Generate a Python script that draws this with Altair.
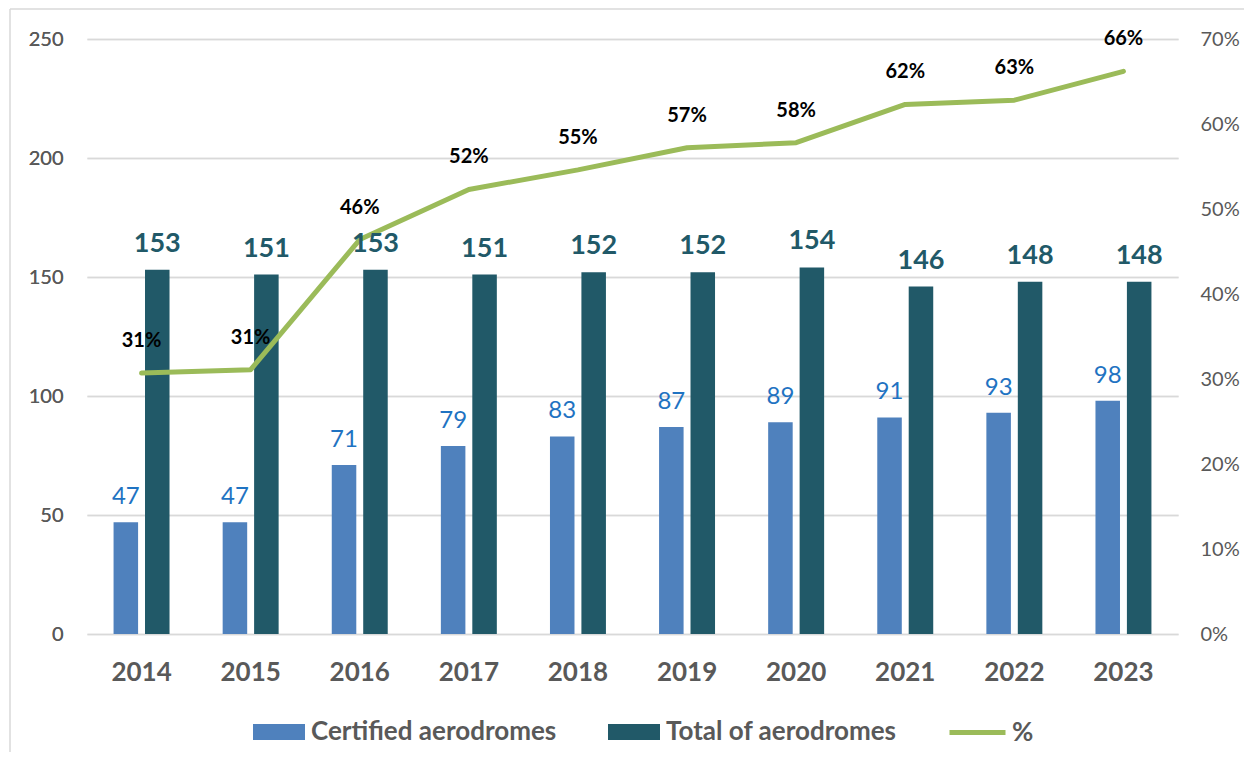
import altair as alt
import pandas as pd

years = ["2014", "2015", "2016", "2017", "2018", "2019", "2020", "2021", "2022", "2023"]
certified = [47, 47, 71, 79, 83, 87, 89, 91, 93, 98]
total = [153, 151, 153, 151, 152, 152, 154, 146, 148, 148]
pct = [30.7, 31.1, 46.4, 52.3, 54.6, 57.2, 57.8, 62.3, 62.8, 66.2]
series_names = ["Certified aerodromes", "Total of aerodromes"]
line_name = "%"
left_ticks = [0, 50, 100, 150, 200, 250]
right_ticks = [0, 10, 20, 30, 40, 50, 60, 70]

C_CERT = "#4F81BD"
C_TOTAL = "#215968"
C_LINE = "#9BBB59"
C_GRID = "#D9D9D9"
C_LABEL = "#595959"
FONT = "Lato"

bars_df = pd.DataFrame({
    "year": years * 2,
    "series": [series_names[0]] * len(years) + [series_names[1]] * len(years),
    "value": certified + total,
})
line_df = pd.DataFrame({"year": years, "pct": pct, "series": [line_name] * len(years)})

W, H = 1091, 595

x = alt.X(
    "year:N",
    sort=years,
    scale=alt.Scale(paddingInner=0.487, paddingOuter=0.2435),
    axis=alt.Axis(
        title=None, labelFont=FONT, labelFontSize=26, labelFontWeight="bold",
        labelColor=C_LABEL, labelPadding=25, domain=False, ticks=False, labelAngle=0,
    ),
)
xoff = alt.XOffset(
    "series:N",
    scale=alt.Scale(domain=series_names, paddingInner=0.22, paddingOuter=0),
)
yl = alt.Y(
    "value:Q",
    scale=alt.Scale(domain=[0, 250], nice=False),
    axis=alt.Axis(
        title=None, values=left_ticks, grid=True, gridColor=C_GRID, gridWidth=1.5,
        labelFont=FONT, labelFontSize=20, labelColor=C_LABEL, labelPadding=24,
        domain=False, ticks=False,
    ),
)
yr = alt.Y(
    "pct:Q",
    scale=alt.Scale(domain=[0, 70], nice=False),
    axis=alt.Axis(
        title=None, orient="right", values=right_ticks, labelExpr="datum.value + '%'",
        grid=False, labelFont=FONT, labelFontSize=20, labelColor=C_LABEL,
        labelPadding=22, domain=False, ticks=False,
    ),
)

bars = alt.Chart(bars_df).mark_bar().encode(
    x=x,
    xOffset=xoff,
    y=yl,
    color=alt.Color(
        "series:N",
        scale=alt.Scale(domain=series_names, range=[C_CERT, C_TOTAL]),
        legend=alt.Legend(
            title=None, orient="none", legendX=166, legendY=667, direction="horizontal",
            columns=2, columnPadding=51, symbolType="M-1,-0.3077H1V0.3077H-1Z",
            symbolSize=2704, symbolStrokeWidth=0, labelOffset=6, labelLimit=400,
            labelFont=FONT, labelFontSize=26, labelFontWeight="bold",
            labelColor=C_LABEL, padding=0,
        ),
    ),
)

cert_text = alt.Chart(bars_df).transform_filter(
    alt.datum.series == series_names[0]
).mark_text(
    dy=-18, baseline="alphabetic", font=FONT, fontSize=24, color="#1F73C2"
).encode(x=x, xOffset=xoff, y=yl, text="value:Q")

total_text = alt.Chart(bars_df).transform_filter(
    alt.datum.series == series_names[1]
).mark_text(
    dy=-18, baseline="alphabetic", font=FONT, fontSize=27, fontWeight="bold", color=C_TOTAL
).encode(x=x, xOffset=xoff, y=yl, text="value:Q")

frame_df = pd.DataFrame({"a": [0]})
frame_left = alt.Chart(frame_df).mark_rule(color=C_GRID, strokeWidth=1.5).encode(
    x=alt.value(-77), y=alt.value(-30), y2=alt.value(713)
)
frame_top = alt.Chart(frame_df).mark_rule(color=C_GRID, strokeWidth=1.5).encode(
    x=alt.value(-77), x2=alt.value(1157), y=alt.value(-30)
)

left = alt.layer(bars, frame_left, frame_top)

line = alt.Chart(line_df).mark_line(
    strokeWidth=5, strokeCap="round", strokeJoin="round"
).encode(
    x=x,
    y=yr,
    stroke=alt.Stroke(
        "series:N",
        scale=alt.Scale(domain=[line_name], range=[C_LINE]),
        legend=alt.Legend(
            title=None, orient="none", legendX=860, legendY=663, direction="horizontal",
            symbolType="stroke", symbolSize=3136, symbolStrokeWidth=5, labelOffset=4,
            labelFont=FONT, labelFontSize=26, labelFontWeight="bold",
            labelColor=C_LABEL, padding=0,
        ),
    ),
)

pct_text = alt.Chart(line_df).transform_calculate(
    lab="round(datum.pct) + '%'"
).mark_text(
    dy=-32, baseline="middle", font=FONT, fontSize=20, fontWeight="bold", color="#000000"
).encode(x=x, y=yr, text="lab:N")

right = alt.layer(line, pct_text)
bar_labels = alt.layer(cert_text, total_text)

chart = alt.layer(left, right, bar_labels).resolve_scale(
    y="independent", color="independent"
).properties(
    width=W, height=H, padding={"left": 1, "top": 0, "right": 0, "bottom": 0}
).configure_view(stroke=None)

chart.save("out.html", embed_options={"renderer": "svg", "actions": False})
